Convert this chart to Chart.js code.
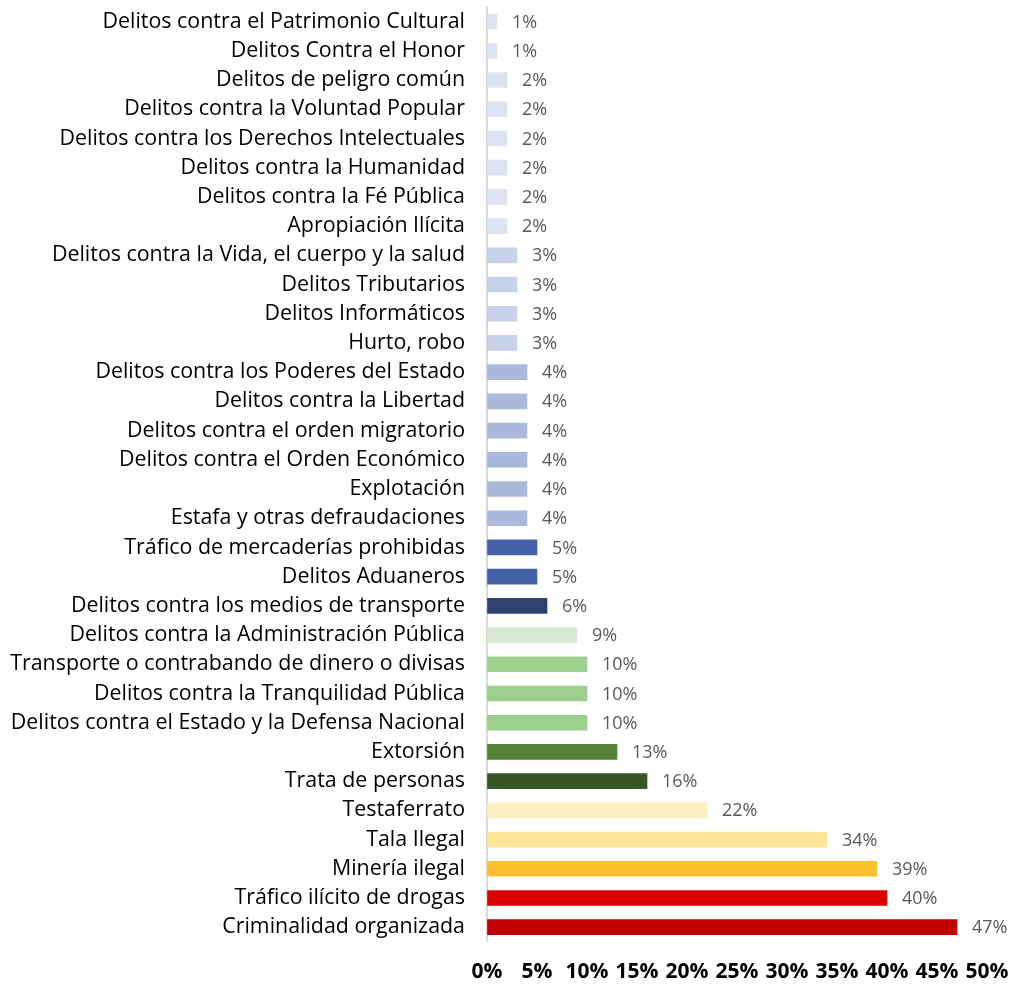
<!DOCTYPE html>
<html>
<head>
<meta charset="utf-8">
<script src="https://cdn.jsdelivr.net/npm/chart.js@4"></script>
<style>
  html, body { margin: 0; padding: 0; background: #fff; }
  #wrap { width: 1013px; height: 985px; }
</style>
</head>
<body>
<div id="wrap"><canvas id="delitos"></canvas></div>
<script>
// categories, top to bottom
const categorias = [
    'Delitos contra el Patrimonio Cultural',
    'Delitos Contra el Honor',
    'Delitos de peligro común',
    'Delitos contra la Voluntad Popular',
    'Delitos contra los Derechos Intelectuales',
    'Delitos contra la Humanidad',
    'Delitos contra la Fé Pública',
    'Apropiación Ilícita',
    'Delitos contra la Vida, el cuerpo y la salud',
    'Delitos Tributarios',
    'Delitos Informáticos',
    'Hurto, robo',
    'Delitos contra los Poderes del Estado',
    'Delitos contra la Libertad',
    'Delitos contra el orden migratorio',
    'Delitos contra el Orden Económico',
    'Explotación',
    'Estafa y otras defraudaciones',
    'Tráfico de mercaderías prohibidas',
    'Delitos Aduaneros',
    'Delitos contra los medios de transporte',
    'Delitos contra la Administración Pública',
    'Transporte o contrabando de dinero o divisas',
    'Delitos contra la Tranquilidad Pública',
    'Delitos contra el Estado y la Defensa Nacional',
    'Extorsión',
    'Trata de personas',
    'Testaferrato',
    'Tala Ilegal',
    'Minería ilegal',
    'Tráfico ilícito de drogas',
    'Criminalidad organizada'
];

// share of cases (fraction)
const porcentajes = [
    0.01, 0.01, 0.02, 0.02, 0.02, 0.02, 0.02, 0.02,
    0.03, 0.03, 0.03, 0.03,
    0.04, 0.04, 0.04, 0.04, 0.04, 0.04,
    0.05, 0.05, 0.06,
    0.09, 0.10, 0.10, 0.10,
    0.13, 0.16,
    0.22, 0.34, 0.39, 0.40, 0.47
];

const colores = [
    '#dee3f2', '#dee3f2', '#dee3f2', '#dee3f2', '#dee3f2', '#dee3f2', '#dee3f2', '#dee3f2',
    '#c8d1ea', '#c8d1ea', '#c8d1ea', '#c8d1ea',
    '#aab8dc', '#aab8dc', '#aab8dc', '#aab8dc', '#aab8dc', '#aab8dc',
    '#4461a8', '#4461a8', '#2e4170',
    '#d9ead4', '#9dd08f', '#9dd08f', '#9dd08f',
    '#538135', '#375623',
    '#fff0c4', '#ffe597', '#ffc02d', '#dd0000', '#c00000'
];

const pct = v => Math.round(v * 100) + '%';

// values written next to each bar
const etiquetas = {
    id: 'etiquetas',
    afterDatasetsDraw(chart) {
        const ctx = chart.ctx;
        const meta = chart.getDatasetMeta(0);
        ctx.save();
        ctx.font = '18px "Open Sans"';
        ctx.fillStyle = '#595959';
        ctx.textAlign = 'left';
        ctx.textBaseline = 'middle';
        meta.data.forEach((bar, i) => {
            ctx.fillText(pct(porcentajes[i]), bar.x + 15, bar.y + 1);
        });
        ctx.restore();
    }
};

const ctx = document.getElementById('delitos').getContext('2d');
const chart = new Chart(ctx, {
    type: 'bar',
    data: {
        labels: categorias,
        datasets: [{
            data: porcentajes,
            backgroundColor: colores,
            barThickness: 15
        }]
    },
    options: {
        indexAxis: 'y',
        responsive: true,
        maintainAspectRatio: false,
        animation: false,
        layout: { padding: { top: 7, right: 26, bottom: 0, left: 0 } },
        plugins: {
            legend: { display: false },
            tooltip: { enabled: false }
        },
        scales: {
            x: {
                min: 0,
                max: 0.5,
                // invisible tick marks give the gap under the plot
                grid: { display: true, drawOnChartArea: false, drawTicks: true, tickLength: 18, tickColor: 'rgba(0,0,0,0)' },
                border: { display: false },
                ticks: {
                    stepSize: 0.05,
                    padding: 0,
                    color: '#000',
                    font: { family: 'Open Sans', size: 21, weight: 'bold' },
                    maxRotation: 0,
                    autoSkip: false,
                    callback: v => pct(v)
                }
            },
            y: {
                grid: { display: true, drawOnChartArea: false, drawTicks: true, tickLength: 22, tickColor: 'rgba(0,0,0,0)' },
                border: { display: true, color: '#d9d9d9', width: 2 },
                ticks: {
                    padding: 0,
                    color: '#000',
                    autoSkip: false,
                    font: { family: 'Open Sans', size: 21.4, lineHeight: 0.6 }
                },
                afterFit: s => { s.width = 487; }
            }
        }
    },
    plugins: [etiquetas]
});
</script>
</body>
</html>
